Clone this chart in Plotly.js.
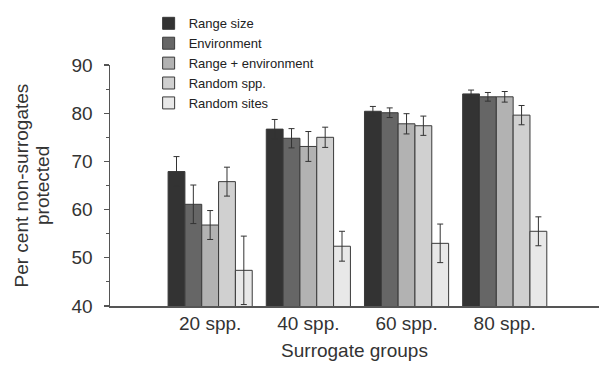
<!DOCTYPE html>
<html><head><meta charset="utf-8">
<script src="https://cdn.plot.ly/plotly-3.0.1.min.js"></script>
<style>html,body{margin:0;padding:0;background:#fff}#chart{width:600px;height:369px}</style>
</head><body><div id="chart"></div>
<script>
const categories = ["20 spp.", "40 spp.", "60 spp.", "80 spp."];
const seriesNames = ["Range size", "Environment", "Range + environment", "Random spp.", "Random sites"];
const rangeSize = [67.9, 76.7, 80.4, 84.0];
const rangeSizeErr = [3.1, 2.0, 1.0, 0.8];
const environment = [61.1, 74.8, 80.1, 83.4];
const environmentErr = [4.0, 2.0, 1.0, 0.9];
const rangeEnv = [56.8, 73.1, 77.8, 83.4];
const rangeEnvErr = [3.0, 3.1, 2.1, 1.1];
const randomSpp = [65.8, 75.0, 77.4, 79.6];
const randomSppErr = [3.0, 2.1, 2.0, 2.0];
const randomSites = [47.4, 52.4, 53.0, 55.5];
const randomSitesErr = [7.1, 3.1, 4.0, 3.0];
const yTitleLines = ["Per cent non-surrogates", "protected"];
const xTitle = "Surrogate groups";

const values = [rangeSize, environment, rangeEnv, randomSpp, randomSites];
const errors = [rangeSizeErr, environmentErr, rangeEnvErr, randomSppErr, randomSitesErr];
const colors = ["#333333", "#666666", "#b2b2b2", "#d0d0d0", "#e8e8e8"];

const traces = values.map((v, i) => ({
  type: "bar",
  name: seriesNames[i],
  x: categories,
  y: v,
  marker: {color: colors[i], line: {color: "#3a3a3a", width: 1}},
  error_y: {type: "data", array: errors[i], visible: true, color: "#333333", thickness: 1, width: 3}
}));

const font = "Liberation Sans, Arial, Helvetica, sans-serif";
const layout = {
  width: 600, height: 369,
  margin: {l: 110, r: 1, t: 65, b: 63},
  paper_bgcolor: "#fff", plot_bgcolor: "#fff",
  font: {family: font, color: "#333", size: 19},
  barmode: "group",
  bargap: 0.143, bargroupgap: 0,
  showlegend: true,
  legend: {x: 0.079, y: 1.235, xanchor: "left", yanchor: "top", font: {size: 13, family: font, color: "#222"},
           bgcolor: "rgba(0,0,0,0)", tracegroupgap: 0, traceorder: "normal"},
  xaxis: {
    range: [-1.02, 3.96], showline: true, linecolor: "#555", linewidth: 1.5,
    ticks: "", showgrid: false, zeroline: false,
    tickfont: {size: 19, family: font, color: "#333"},
    title: {text: xTitle, font: {size: 19, family: font, color: "#333"}, standoff: 10}
  },
  yaxis: {
    range: [40, 90], dtick: 10, showline: true, linecolor: "#555", linewidth: 1.5,
    ticks: "outside", ticklen: 5, tickcolor: "#555", tickwidth: 1.2, ticklabelstandoff: 7,
    minor: {dtick: 5, ticks: "outside", ticklen: 3, tickcolor: "#555", tickwidth: 1},
    showgrid: false, zeroline: false,
    tickfont: {size: 19, family: font, color: "#333"}
  },
  annotations: yTitleLines.map((t, i) => ({
    text: t, textangle: -90, showarrow: false,
    xref: "paper", yref: "paper", x: i === 0 ? -0.18 : -0.138, y: 0.5,
    xanchor: "center", yanchor: "middle",
    font: {size: 19, family: font, color: "#333"}
  }))
};
Plotly.newPlot("chart", traces, layout, {displayModeBar: false, staticPlot: true});
</script></body></html>
